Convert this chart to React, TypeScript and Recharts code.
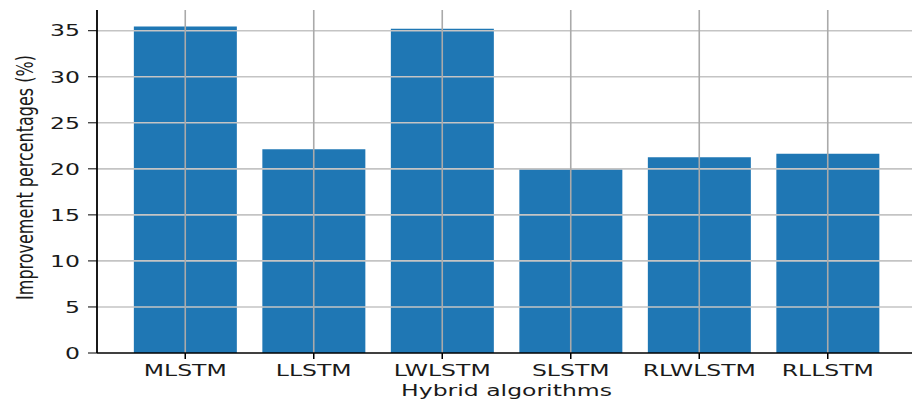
import React from 'react';
import { BarChart, Bar, XAxis, YAxis, ReferenceLine } from 'recharts';

const categories = ['MLSTM', 'LLSTM', 'LWLSTM', 'SLSTM', 'RLWLSTM', 'RLLSTM'];
const improvement = [35.47, 22.14, 35.22, 19.96, 21.27, 21.63];
const yTicks = [0, 5, 10, 15, 20, 25, 30, 35];

const data = categories.map((name, i) => ({ name, value: improvement[i] }));

const SX = 1.47;
const FONT = 'DejaVu Sans';
const TXT = '#1a1a1a';

const XTick = (props: any) => {
  const { x, y, payload } = props;
  return (
    <g transform={`translate(${x},${y}) scale(${SX},1)`}>
      <text x={0} y={0} dy="0.71em" textAnchor="middle" fontFamily={FONT} fontSize={16} fill={TXT}>
        {payload.value}
      </text>
    </g>
  );
};

const YTick = (props: any) => {
  const { x, y, payload } = props;
  return (
    <g transform={`translate(${x},${y}) scale(${SX},1)`}>
      <text x={0} y={0} dy="0.36em" textAnchor="end" fontFamily={FONT} fontSize={16} fill={TXT}>
        {payload.value}
      </text>
    </g>
  );
};

const XLabel = (props: any) => {
  const vb = props.viewBox || { x: 97, y: 353, width: 819, height: 50 };
  const cx = vb.x + vb.width / 2;
  const by = vb.y + 43;
  return (
    <g transform={`translate(${cx},${by}) scale(${SX},1)`}>
      <text x={0} y={0} textAnchor="middle" fontFamily={FONT} fontSize={16} fill={TXT}>
        Hybrid algorithms
      </text>
    </g>
  );
};

const YLabel = (props: any) => {
  const vb = props.viewBox || { x: 0, y: 10, width: 97, height: 343 };
  const cx = vb.x + 33;
  const cy = vb.y + vb.height / 2 - 4;
  return (
    <g transform={`translate(${cx},${cy}) scale(${SX},1) rotate(-90)`}>
      <text x={0} y={0} textAnchor="middle" fontFamily={FONT} fontSize={16} fill={TXT}>
        Improvement percentages (%)
      </text>
    </g>
  );
};

export default function App() {
  return (
    <div style={{ position: 'absolute', left: 0, top: 0, width: 912, height: 403, overflow: 'hidden', background: '#fff' }}>
      <BarChart
        width={920}
        height={403}
        data={data}
        margin={{ top: 10, right: 4, bottom: 0, left: 0 }}
        barCategoryGap="10%"
      >
        <XAxis
          dataKey="name"
          xAxisId={0}
          height={50}
          padding={{ left: 24, right: 24 }}
          tickSize={6}
          tickMargin={6}
          tick={<XTick />}
          tickLine={{ stroke: '#000', strokeWidth: 1.5 }}
          axisLine={{ stroke: '#000', strokeWidth: 1.3 }}
          interval={0}
          label={<XLabel />}
        />
        <XAxis
          xAxisId="top"
          dataKey="name"
          orientation="top"
          height={0}
          tick={false}
          tickLine={false}
          axisLine={{ stroke: '#333', strokeWidth: 1.3 }}
        />
        <YAxis
          width={97}
          domain={[0, 37.25]}
          ticks={yTicks}
          tickSize={9}
          tickMargin={8}
          tick={<YTick />}
          tickLine={{ stroke: '#000', strokeWidth: 1 }}
          axisLine={{ stroke: '#000', strokeWidth: 1.8 }}
          interval={0}
          allowDataOverflow
          label={<YLabel />}
        />
        <Bar dataKey="value" xAxisId={0} fill="#1f77b4" isAnimationActive={false} />
        {yTicks.filter((t) => t > 0).map((t) => (
          <ReferenceLine key={'h' + t} y={t} xAxisId={0} stroke="#c4c4c4" strokeWidth={1.6} />
        ))}
        {categories.map((c) => (
          <ReferenceLine key={'v' + c} x={c} xAxisId={0} stroke="#aaaaaa" strokeWidth={1.6} />
        ))}
      </BarChart>
    </div>
  );
}
